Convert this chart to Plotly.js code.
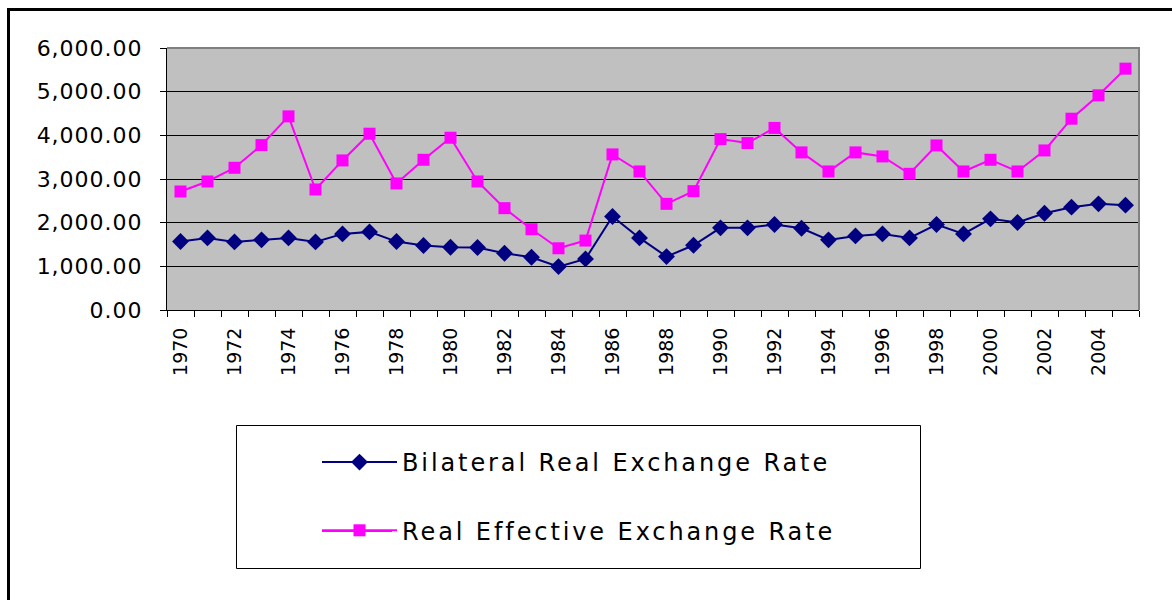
<!DOCTYPE html>
<html>
<head>
<meta charset="utf-8">
<script src="https://cdn.plot.ly/plotly-3.0.1.min.js"></script>
<style>
html,body{margin:0;padding:0;background:#fff;}
#chart{width:1172px;height:600px;}
.legendtext{letter-spacing:2.9px;}
.ytick text{letter-spacing:1px;}
</style>
</head>
<body>
<div id="chart"></div>
<script>
const years = [1970,1971,1972,1973,1974,1975,1976,1977,1978,1979,
               1980,1981,1982,1983,1984,1985,1986,1987,1988,1989,
               1990,1991,1992,1993,1994,1995,1996,1997,1998,1999,
               2000,2001,2002,2003,2004,2005];
const bilateralRER = [1567,1651,1560,1606,1651,1560,1743,1789,1567,1476,
                      1437,1430,1300,1208,994,1170,2141,1651,1223,1483,
                      1881,1881,1957,1873,1606,1697,1743,1651,1957,1743,
                      2087,2003,2217,2355,2431,2401];
const realEffectiveER = [2714,2943,3257,3777,4434,2760,3425,4037,2898,3440,
                         3945,2943,2332,1850,1414,1590,3563,3173,2431,2722,
                         3914,3823,4170,3609,3173,3609,3517,3119,3769,3173,
                         3440,3173,3654,4381,4916,5527];
const seriesNames = ['Bilateral Real Exchange Rate','Real Effective Exchange Rate'];

// layout geometry in pixels
const W = 1172, H = 600;
const mL = 167, mR = 33, mT = 48, mB = 290;
const pw = W - mL - mR, ph = H - mT - mB;
const px = x => (x - mL) / pw;
const py = y => (H - mB - y) / ph;

const traces = [
  {
    x: years, y: bilateralRER, name: seriesNames[0], type: 'scatter', mode: 'lines+markers',
    line: {color: '#000080', width: 2},
    marker: {symbol: 'diamond', size: 13, color: '#000080'},
    legendgroup: 'a'
  },
  {
    x: years, y: realEffectiveER, name: seriesNames[1], type: 'scatter', mode: 'lines+markers',
    line: {color: '#FF00FF', width: 2},
    marker: {symbol: 'square', size: 12, color: '#FF00FF'},
    legendgroup: 'b'
  }
];

const layout = {
  width: W, height: H,
  margin: {l: mL, r: mR, t: mT, b: mB, pad: 0},
  paper_bgcolor: '#ffffff',
  plot_bgcolor: '#C0C0C0',
  font: {family: 'DejaVu Sans, Liberation Sans, Arial, sans-serif', color: '#000'},
  showlegend: true,
  legend: {
    x: px(317), y: py(440), xanchor: 'left', yanchor: 'top',
    bgcolor: 'rgba(0,0,0,0)', borderwidth: 0,
    font: {size: 24, color: '#000'},
    itemwidth: 75,
    tracegroupgap: 34,
    itemclick: false, itemdoubleclick: false
  },
  xaxis: {
    type: 'linear',
    range: [1969.5, 2005.5],
    tick0: 1970, dtick: 2,
    tickangle: -90,
    ticks: '', ticklabelstandoff: 9,
    tickfont: {size: 19, color: '#000'},
    minor: {ticks: 'outside', tick0: 1969.5, dtick: 1, ticklen: 6, tickcolor: '#000', tickwidth: 1, showgrid: false},
    showline: true, linecolor: '#000', linewidth: 1,
    showgrid: false, zeroline: false, fixedrange: true
  },
  yaxis: {
    range: [0, 6000],
    tick0: 0, dtick: 1000,
    tickformat: ',.2f',
    ticks: 'outside', ticklen: 6, tickcolor: '#000', tickwidth: 1,
    ticklabelstandoff: 13,
    tickfont: {size: 22, color: '#000'},
    showline: true, linecolor: '#000', linewidth: 1,
    showgrid: true, gridcolor: '#000', gridwidth: 1,
    zeroline: false, fixedrange: true
  },
  shapes: [
    // plot-area grey border (top and right)
    {type: 'path', xref: 'paper', yref: 'paper', path: 'M0,1 L1,1 L1,0',
     line: {color: '#808080', width: 2}},
    // outer chart frame (left and top)
    {type: 'line', xref: 'paper', yref: 'paper', x0: px(8.5), x1: px(8.5), y0: py(600), y1: py(9.5),
     line: {color: '#000', width: 3}},
    {type: 'line', xref: 'paper', yref: 'paper', x0: px(7), x1: px(1172), y0: py(9.5), y1: py(9.5),
     line: {color: '#000', width: 3}},
    // legend box
    {type: 'rect', xref: 'paper', yref: 'paper', x0: px(236.5), x1: px(920.5), y0: py(568.5), y1: py(425.5),
     line: {color: '#000', width: 1}, fillcolor: 'rgba(0,0,0,0)'},
    // legend key lines
    {type: 'line', xref: 'paper', yref: 'paper', x0: px(322), x1: px(392), y0: py(462), y1: py(462),
     line: {color: '#000080', width: 2}},
    {type: 'line', xref: 'paper', yref: 'paper', x0: px(322), x1: px(392), y0: py(531), y1: py(531),
     line: {color: '#FF00FF', width: 2}}
  ]
};

Plotly.newPlot('chart', traces, layout, {displayModeBar: false, staticPlot: true});
</script>
</body>
</html>
